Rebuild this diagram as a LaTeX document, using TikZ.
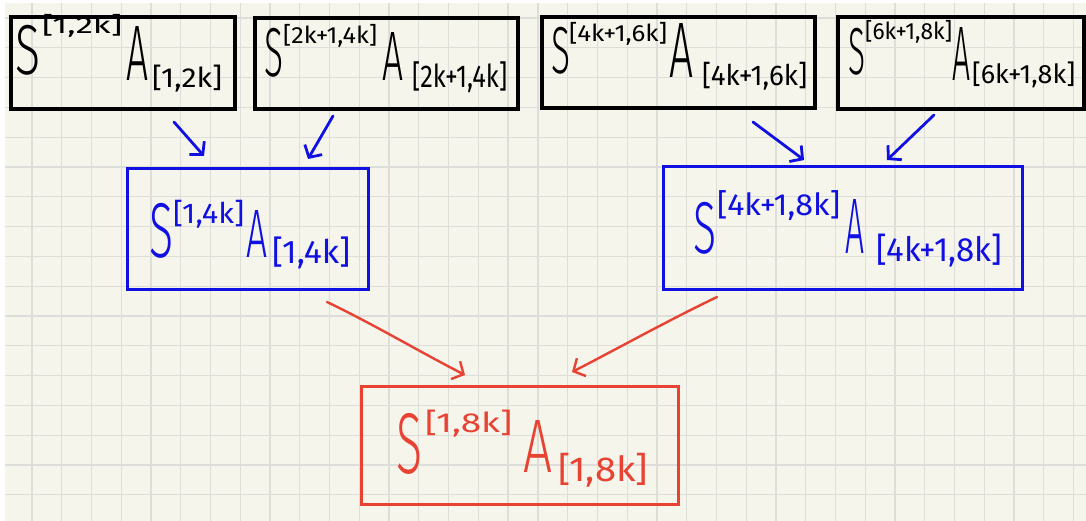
\documentclass[tikz,border=0pt]{standalone}
\usepackage{fontspec}
\setmainfont{Fira Sans}
\IfFontExistsTF{Fira Sans Light}{\newfontfamily\hwbig{Fira Sans Light}}{\let\hwbig\rmfamily}
\newfontfamily\hwf{Fira Sans}
\usetikzlibrary{arrows.meta}
\definecolor{paper}{RGB}{246,245,236}
\definecolor{gridc}{RGB}{221,221,218}
\definecolor{inkblue}{RGB}{16,16,226}
\definecolor{inkred}{RGB}{232,66,50}
\newcommand\hw[3]{\resizebox*{#1pt}{#2pt}{\hwf #3}}
\newcommand\hwL[3]{\resizebox*{#1pt}{#2pt}{\hwbig #3}}
\begin{document}
\begin{tikzpicture}[x=1pt,y=-1pt,
  gridline/.style={gridc, line width=1.3pt},
  boxk/.style={draw=black, line width=3.8pt, rectangle, inner sep=0pt, anchor=north west},
  boxb/.style={draw=inkblue, line width=3.2pt, rectangle, inner sep=0pt, anchor=north west},
  boxr/.style={draw=inkred, line width=2.7pt, rectangle, inner sep=0pt, anchor=north west},
  txtk/.style={inner sep=0pt, anchor=north west, text=black},
  txtb/.style={inner sep=0pt, anchor=north west, text=inkblue},
  txtr/.style={inner sep=0pt, anchor=north west, text=inkred},
  arr/.style={-{Straight Barb[length=9pt,width=20pt]}, line cap=round, line join=round},
  arrb/.style={arr, draw=inkblue, line width=2.8pt},
  arrr/.style={arr, draw=inkred, line width=2.4pt}
]
\useasboundingbox (0,0) rectangle (1086,521);
\fill[paper] (0,0) rectangle (1086,521);
\fill[white] (0,0) rectangle (1086,3);
\fill[white] (0,0) rectangle (5,521);
% grid
\foreach \i in {1,...,36} {\draw[gridline] (2.2+29.76*\i,3) -- (2.2+29.76*\i,521);}
\foreach \j in {0,...,16} {\draw[gridline] (5,18+29.8*\j) -- (1086,18+29.8*\j);}

% black boxes
\node[boxk, minimum width=224pt, minimum height=92pt] (k1) at (9,15) {};
\node[boxk, minimum width=263pt, minimum height=91pt] (k2) at (253,16) {};
\node[boxk, minimum width=273pt, minimum height=91pt] (k3) at (540,15) {};
\node[boxk, minimum width=246pt, minimum height=92pt] (k4) at (836,15) {};
% blue boxes
\node[boxb, minimum width=241pt, minimum height=121pt] (b1) at (126,167) {};
\node[boxb, minimum width=359pt, minimum height=123pt] (b2) at (662,165) {};
% red box
\node[boxr, minimum width=317pt, minimum height=118pt] (r1) at (360,385) {};

% texts box 1
\node[txtk] (k1S) at (15,25) {\hwL{25}{50}{S}};
\node[txtk] (k1p) at (42,14) {\hw{80}{23}{[1,2k]}};
\node[txtk] (k1A) at (126,26) {\hwL{22}{54}{A}};
\node[txtk] (k1b) at (152,65) {\hw{70}{27}{[1,2k]}};
% box 2
\node[txtk] (k2S) at (264,28) {\hwL{19}{49}{S}};
\node[txtk] (k2p) at (283,24) {\hw{94}{23}{[2k+1,4k]}};
\node[txtk] (k2A) at (382,32) {\hwL{21}{48}{A}};
\node[txtk] (k2b) at (412,62) {\hw{95}{31}{[2k+1,4k]}};
% box 3
\node[txtk] (k3S) at (551,27) {\hwL{19}{47}{S}};
\node[txtk] (k3p) at (569,22) {\hw{98}{23}{[4k+1,6k]}};
\node[txtk] (k3A) at (669,23) {\hwL{24}{54}{A}};
\node[txtk] (k3b) at (702,62) {\hw{105}{28}{[4k+1,6k]}};
% box 4
\node[txtk] (k4S) at (848,28) {\hwL{17}{47}{S}};
\node[txtk] (k4p) at (865,20) {\hw{87}{23}{[6k+1,8k]}};
\node[txtk] (k4A) at (952,27) {\hwL{18}{53}{A}};
\node[txtk] (k4b) at (972,62) {\hw{103}{26}{[6k+1,8k]}};
% blue 1
\node[txtb] (b1S) at (149,203) {\hwL{24}{55}{S}};
\node[txtb] (b1p) at (173,200) {\hw{71}{28}{[1,4k]}};
\node[txtb] (b1A) at (246,210) {\hwL{21}{47}{A}};
\node[txtb] (b1b) at (272,237) {\hw{78}{32}{[1,4k]}};
% blue 2
\node[txtb] (b2S) at (693,202) {\hwL{23}{52}{S}};
\node[txtb] (b2p) at (717,190) {\hw{123}{30}{[4k+1,8k]}};
\node[txtb] (b2A) at (845,199) {\hwL{19}{54}{A}};
\node[txtb] (b2b) at (876,234) {\hw{126}{33}{[4k+1,8k]}};
% red
\node[txtr] (r1S) at (396,413) {\hwL{26}{61}{S}};
\node[txtr] (r1p) at (425,410) {\hw{87}{27}{[1,8k]}};
\node[txtr] (r1A) at (523,420) {\hwL{29}{52}{A}};
\node[txtr] (r1b) at (558,453) {\hw{90}{34}{[1,8k]}};

% arrow end points
\coordinate (a1s) at (174,122);
\coordinate (a1e) at (204,156);
\coordinate (a2s) at (333,116);
\coordinate (a2e) at (308,159);
\coordinate (a3s) at (753,122);
\coordinate (a3e) at (804,160);
\coordinate (a4s) at (934,115);
\coordinate (a4e) at (887,160);
\coordinate (a5s) at (327,302);
\coordinate (a5e) at (465,375);
\coordinate (a6s) at (717,297);
\coordinate (a6e) at (572,372);

\draw[arrb] (a1s) -- (a1e);
\draw[arrb] (a2s) -- (a2e);
\draw[arrb] (a3s) -- (a3e);
\draw[arrb] (a4s) -- (a4e);
\draw[arrr] (a5s) .. controls (375,325) and (420,352) .. (a5e);
\draw[arrr] (a6s) .. controls (665,322) and (615,350) .. (a6e);
\end{tikzpicture}
\end{document}
